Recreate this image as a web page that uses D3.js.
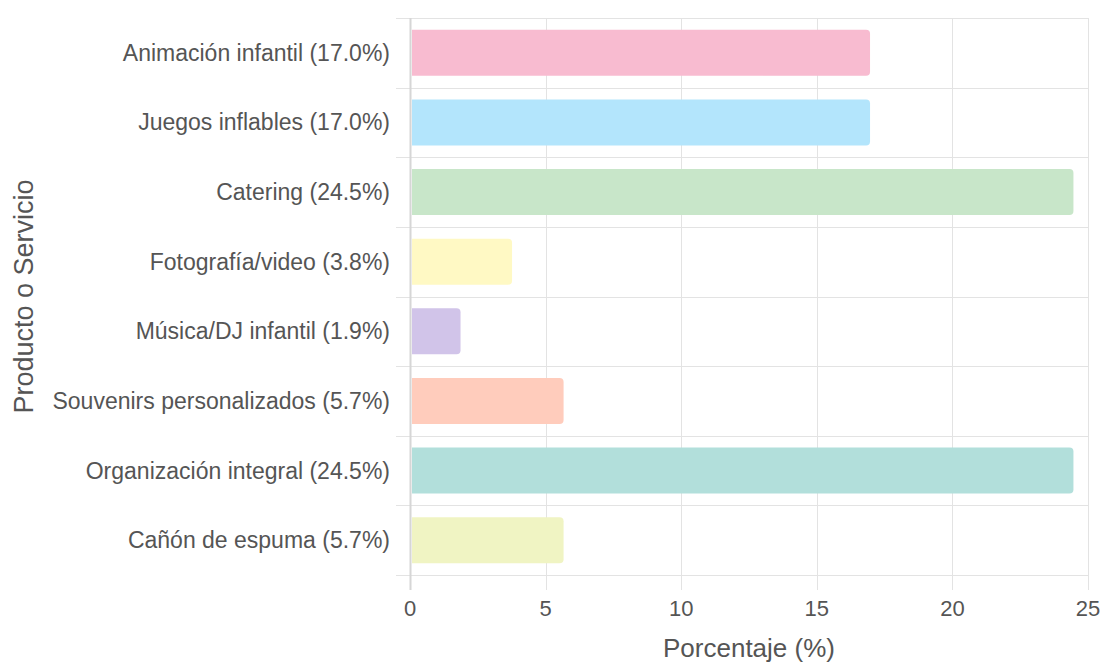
<!DOCTYPE html>
<html>
<head>
<meta charset="utf-8">
<script src="https://cdn.jsdelivr.net/npm/d3@7"></script>
<style>
  body { margin: 0; background: #fff; }
  text { font-family: "Liberation Sans", Arial, sans-serif; }
</style>
</head>
<body>
<div id="chart"></div>
<script>
const categories = [
  'Animación infantil (17.0%)',
  'Juegos inflables (17.0%)',
  'Catering (24.5%)',
  'Fotografía/video (3.8%)',
  'Música/DJ infantil (1.9%)',
  'Souvenirs personalizados (5.7%)',
  'Organización integral (24.5%)',
  'Cañón de espuma (5.7%)'
];
const values = [17.0, 17.0, 24.5, 3.8, 1.9, 5.7, 24.5, 5.7];
const colors = ['#f8bbd0', '#b3e5fc', '#c8e6c9', '#fff9c4', '#d1c4e9', '#ffccbc', '#b2dfdb', '#f0f4c3'];
const xTicks = [0, 5, 10, 15, 20, 25];

const width = 1105;
const height = 664;
const margin = {top: 18, right: 17, bottom: 89, left: 410};

const svg = d3.select('#chart')
  .append('svg')
  .attr('width', width)
  .attr('height', height);

const x = d3.scaleLinear()
  .domain([0, 25])
  .range([margin.left, width - margin.right]);

const y = d3.scaleBand()
  .domain(categories)
  .range([margin.top, height - margin.bottom])
  .paddingInner(0.34)
  .paddingOuter(0.17);

// grid lines
const grid = svg.append('g').attr('stroke', '#e3e3e3').attr('stroke-width', 1);
grid.selectAll('line.v')
  .data(xTicks)
  .join('line')
    .attr('class', 'v')
    .attr('x1', d => Math.round(x(d)) + 0.5)
    .attr('x2', d => Math.round(x(d)) + 0.5)
    .attr('y1', margin.top)
    .attr('y2', height - margin.bottom + 15);

const rowEdges = d3.range(categories.length + 1).map(i => margin.top + i * (height - margin.top - margin.bottom) / categories.length);
grid.selectAll('line.h')
  .data(rowEdges)
  .join('line')
    .attr('class', 'h')
    .attr('x1', margin.left - 14)
    .attr('x2', x(25))
    .attr('y1', d => Math.round(d) + 0.5)
    .attr('y2', d => Math.round(d) + 0.5);

// left axis border
svg.append('line')
  .attr('x1', margin.left + 0.5).attr('x2', margin.left + 0.5)
  .attr('y1', margin.top).attr('y2', height - margin.bottom + 15)
  .attr('stroke', '#d6d6d6').attr('stroke-width', 2);

// bars, rounded on the right end
const r = 4;
svg.append('g')
  .selectAll('path')
  .data(values)
  .join('path')
    .attr('fill', (d, i) => colors[i])
    .attr('d', (d, i) => {
      const x0 = x(0) + 2, x1 = x(d) - 1;
      const y0 = y(categories[i]), h = y.bandwidth();
      return `M${x0},${y0}H${x1 - r}Q${x1},${y0} ${x1},${y0 + r}V${y0 + h - r}Q${x1},${y0 + h} ${x1 - r},${y0 + h}H${x0}Z`;
    });

// y labels
svg.append('g')
  .selectAll('text')
  .data(categories)
  .join('text')
    .attr('x', margin.left - 20)
    .attr('y', d => y(d) + y.bandwidth() / 2)
    .attr('dy', '0.35em')
    .attr('text-anchor', 'end')
    .attr('fill', '#555')
    .attr('font-size', 23)
    .text(d => d);

// x tick labels
svg.append('g')
  .selectAll('text')
  .data(xTicks)
  .join('text')
    .attr('x', d => x(d))
    .attr('y', height - margin.bottom + 33)
    .attr('dy', '0.35em')
    .attr('text-anchor', 'middle')
    .attr('fill', '#555')
    .attr('font-size', 22)
    .text(d => d);

// axis titles
svg.append('text')
  .attr('x', 749)
  .attr('y', 648)
  .attr('dy', '0.35em')
  .attr('text-anchor', 'middle')
  .attr('fill', '#555')
  .attr('font-size', 26)
  .text('Porcentaje (%)');

svg.append('text')
  .attr('transform', `translate(24, ${(margin.top + height - margin.bottom) / 2}) rotate(-90)`)
  .attr('dy', '0.35em')
  .attr('text-anchor', 'middle')
  .attr('fill', '#555')
  .attr('font-size', 27)
  .text('Producto o Servicio');
</script>
</body>
</html>
